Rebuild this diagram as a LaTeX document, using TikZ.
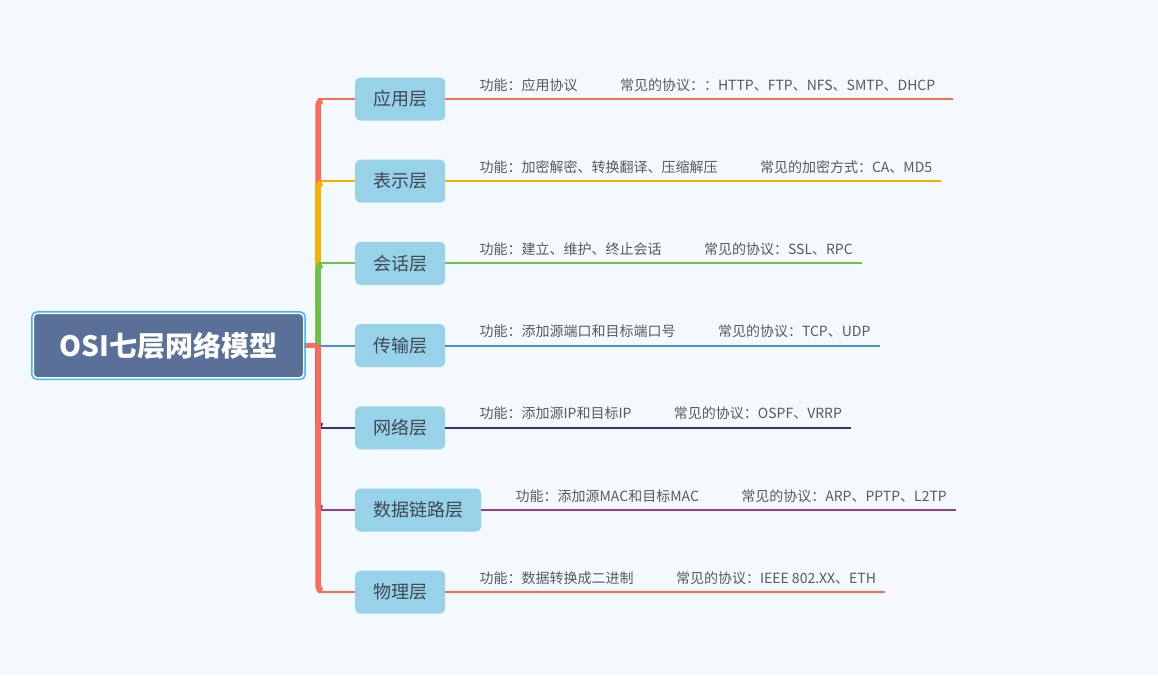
\documentclass[tikz,border=0pt]{standalone}
\usepackage{fontspec}
\setmainfont{Noto Sans CJK SC}
\usepackage{tikz}
\usetikzlibrary{fit}
\usetikzlibrary{positioning}
\definecolor{bg}{HTML}{F4F9FD}
\definecolor{rootfill}{HTML}{5A7098}
\definecolor{rootborder}{HTML}{3DB9F0}
\definecolor{layerblue}{HTML}{97D2E8}
\definecolor{layertext}{HTML}{3F4853}
\definecolor{desctext}{HTML}{555B61}
\definecolor{redline}{HTML}{FA6C58}
\definecolor{orangeline}{HTML}{F8B000}
\definecolor{greenline}{HTML}{6CC14B}
\definecolor{blueline}{HTML}{4A8EDA}
\definecolor{navyline}{HTML}{3B3090}
\definecolor{plumline}{HTML}{9A3E84}

\begin{document}
\begin{tikzpicture}[
            x = 1pt, y = 1pt, % pixel units
            node distance = 38.8pt, % gap between layers
            line cap = butt
            ]

        \tikzstyle{root}=[
            fill = rootfill,
            draw = white,
            line width = 1pt,
            text = white,
            rounded corners = 4pt,
            minimum width = 270pt,
            minimum height = 64pt,
            font = \fontsize{28pt}{32pt}\selectfont\bfseries
        ]
        \tikzstyle{layer}=[
            fill = layerblue,
            text = layertext,
            rounded corners = 5pt,
            minimum height = 43pt,
            inner xsep = 18pt,
            anchor = west,
            font = \fontsize{18pt}{21pt}\selectfont
        ]
        \tikzstyle{desc}=[
            inner sep = 0pt,
            text = desctext,
            font = \fontsize{14pt}{16pt}\selectfont
        ]
        \tikzstyle{spine}=[line width = 5.5pt, rounded corners = 4pt]
        \tikzstyle{twig}=[line width = 2pt]

        \useasboundingbox[fill = bg] (0,0) rectangle (1158,-675);

	% layers
	\node[layer] (L) at (355,-99) {应用层};
	\node[layer] (L2) [below = of L.south west, anchor = north west] {表示层};
	\node[layer] (L3) [below = of L2.south west, anchor = north west] {会话层};
	\node[layer] (L4) [below = of L3.south west, anchor = north west] {传输层};
	\node[layer] (L5) [below = of L4.south west, anchor = north west] {网络层};
	\node[layer] (L6) [below = of L5.south west, anchor = north west] {数据链路层};
	\node[layer] (L7) [below = of L6.south west, anchor = north west] {物理层};

	% central topic
	\node[root] (R) at (168.5,0 |- L4.west) {OSI七层网络模型};
	\coordinate (S) at (318,0 |- L4.west);

	% functions and protocols
	\node[desc] (F) [above right = 9pt and 34pt of L.east, anchor = base west] {功能：应用协议};
	\node[desc] (P) [right = 42pt of F.base east, anchor = base west] {常见的协议：：HTTP、FTP、NFS、SMTP、DHCP};
	\draw[twig, redline] (L.east) -- ([xshift = 18pt]L.east -| P.east);

	\node[desc] (F2) [above right = 9pt and 34pt of L2.east, anchor = base west] {功能：加密解密、转换翻译、压缩解压};
	\node[desc] (P2) [right = 42pt of F2.base east, anchor = base west] {常见的加密方式：CA、MD5};
	\draw[twig, orangeline] (L2.east) -- ([xshift = 9pt]L2.east -| P2.east);

	\node[desc] (F3) [above right = 9pt and 34pt of L3.east, anchor = base west] {功能：建立、维护、终止会话};
	\node[desc] (P3) [right = 42pt of F3.base east, anchor = base west] {常见的协议：SSL、RPC};
	\draw[twig, greenline] (L3.east) -- ([xshift = 9pt]L3.east -| P3.east);

	\node[desc] (F4) [above right = 9pt and 34pt of L4.east, anchor = base west] {功能：添加源端口和目标端口号};
	\node[desc] (P4) [right = 42pt of F4.base east, anchor = base west] {常见的协议：TCP、UDP};
	\draw[twig, blueline] (L4.east) -- ([xshift = 9pt]L4.east -| P4.east);

	\node[desc] (F5) [above right = 9pt and 34pt of L5.east, anchor = base west] {功能：添加源IP和目标IP};
	\node[desc] (P5) [right = 42pt of F5.base east, anchor = base west] {常见的协议：OSPF、VRRP};
	\draw[twig, navyline] (L5.east) -- ([xshift = 9pt]L5.east -| P5.east);

	\node[desc] (F6) [above right = 9pt and 34pt of L6.east, anchor = base west] {功能：添加源MAC和目标MAC};
	\node[desc] (P6) [right = 42pt of F6.base east, anchor = base west] {常见的协议：ARP、PPTP、L2TP};
	\draw[twig, plumline] (L6.east) -- ([xshift = 9pt]L6.east -| P6.east);

	\node[desc] (F7) [above right = 9pt and 34pt of L7.east, anchor = base west] {功能：数据转换成二进制};
	\node[desc] (P7) [right = 42pt of F7.base east, anchor = base west] {常见的协议：IEEE 802.XX、ETH};
	\draw[twig, redline] (L7.east) -- ([xshift = 9pt]L7.east -| P7.east);

	% branches
	\draw[twig, blueline] (S) -- (L4.west);
	\draw[spine, redline] (S) |- ([xshift = -33pt, yshift = -1.75pt]L.west);
	\draw[twig, redline] (S |- L.west) -- (L.west);
	\draw[spine, orangeline] (S) |- ([xshift = -33pt, yshift = -1.75pt]L2.west);
	\draw[twig, orangeline] (S |- L2.west) -- (L2.west);
	\draw[spine, greenline] (S) |- ([xshift = -33pt, yshift = -1.75pt]L3.west);
	\draw[twig, greenline] (S |- L3.west) -- (L3.west);
	\draw[spine, navyline] (S) |- ([xshift = -33pt, yshift = 1.75pt]L5.west);
	\draw[twig, navyline] (S |- L5.west) -- (L5.west);
	\draw[spine, plumline] (S) |- ([xshift = -33pt, yshift = 1.75pt]L6.west);
	\draw[twig, plumline] (S |- L6.west) -- (L6.west);
	\draw[spine, redline] (S) |- ([xshift = -33pt, yshift = 1.75pt]L7.west);
	\draw[twig, redline] (S |- L7.west) -- (L7.west);
	\draw[line width = 5pt, redline] (R.east) -- (S);

	\node [fit=(R), draw = rootborder, line width = 1.5pt, rounded corners = 5pt, inner sep = 1.2pt] (RB) {};

\end{tikzpicture}
\end{document}
